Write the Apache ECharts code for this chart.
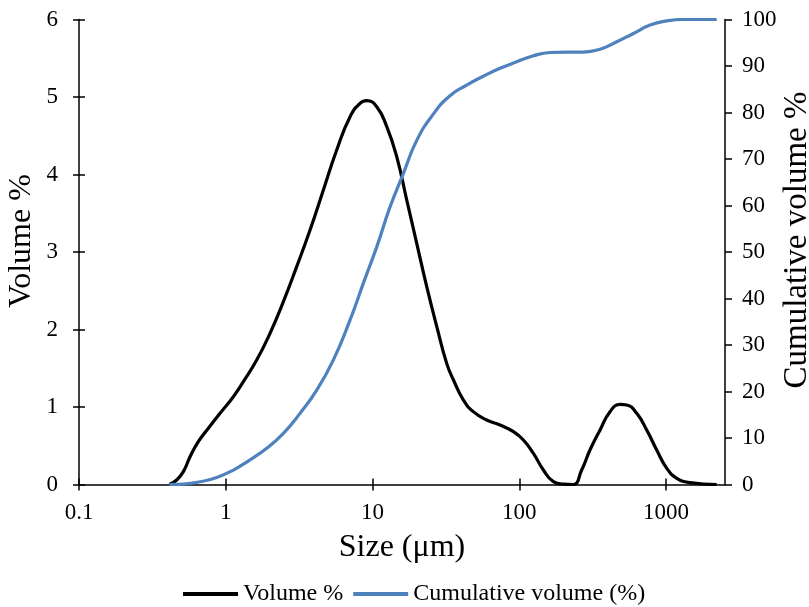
<!DOCTYPE html>
<html>
<head>
<meta charset="utf-8">
<script src="https://cdn.jsdelivr.net/npm/echarts@6/dist/echarts.min.js"></script>
<style>
html,body{margin:0;padding:0;background:#fff;}
#chart{width:809px;height:607px;}
</style>
</head>
<body>
<div id="chart"></div>
<script>
// Particle size (µm) and volume % readings
const volSizes  = [0.4125, 0.463, 0.514, 0.571, 0.650, 0.761, 0.914, 1.126, 1.318, 1.624, 2.002, 2.469, 3.042, 3.751, 4.624, 5.70, 7.03, 8.22, 9.13, 10.68, 12.50, 14.61, 17.10, 20.0, 23.4, 27.4, 32.0, 35.6, 41.6, 48.6, 59.9, 73.9, 91.2, 106.6, 124.7, 145.9, 170.7, 199.6, 233.6, 266, 303, 355, 415, 486, 539, 631, 738, 863, 1011, 1183, 1458, 2214];
const volValues = [0, 0.058, 0.166, 0.359, 0.553, 0.725, 0.918, 1.133, 1.327, 1.606, 1.951, 2.359, 2.811, 3.284, 3.800, 4.316, 4.746, 4.918, 4.953, 4.875, 4.617, 4.230, 3.671, 3.112, 2.553, 2.037, 1.563, 1.348, 1.090, 0.940, 0.832, 0.768, 0.682, 0.574, 0.402, 0.187, 0.037, 0.004, 0, 0.187, 0.445, 0.703, 0.940, 1.034, 1.026, 0.918, 0.703, 0.445, 0.209, 0.080, 0.024, 0];

// Cumulative volume (%) readings
const cumSizes  = [0.4125, 0.514, 0.668, 0.867, 1.126, 1.463, 1.90, 2.469, 3.206, 4.165, 5.41, 7.03, 8.66, 10.68, 13.16, 16.23, 20.0, 26.0, 33.7, 43.8, 56.9, 73.9, 96.0, 124.7, 162, 210, 273, 355, 461, 599, 778, 1011, 1312, 2214];
const cumValues = [0, 0.1, 0.6, 1.5, 3.1, 5.3, 7.8, 11.0, 15.3, 20.3, 26.8, 35.4, 43.3, 51.1, 59.7, 66.9, 74.0, 79.7, 83.6, 85.9, 87.8, 89.5, 90.9, 92.2, 92.9, 93.0, 93.0, 93.6, 95.2, 97.0, 98.8, 99.7, 100, 100];

const xTicks = [0.1, 1, 10, 100, 1000];
const xMin = 0.1, xMax = 2520;
const seriesNames = ['Volume %', 'Cumulative volume (%)'];

const FONT = 'Liberation Serif';
const pair = (xs, ys) => xs.map((x, i) => [x, ys[i]]);
const fmt = v => (v < 1 ? Number(v).toFixed(1) : String(Math.round(v)));

const chart = echarts.init(document.getElementById('chart'), null, {renderer: 'canvas'});
const gridBox = {left: 79, right: 84, top: 19.5, bottom: 122.5, containLabel: false, outerBoundsMode: 'none'};
const axisLine = {show: true, lineStyle: {color: '#000', width: 1.5}};

chart.setOption({
  animation: false,
  backgroundColor: '#fff',
  textStyle: {fontFamily: FONT, color: '#000'},
  grid: [Object.assign({}, gridBox), Object.assign({}, gridBox)],
  legend: {
    data: seriesNames,
    left: 183, top: 582, padding: 0,
    icon: 'rect', itemWidth: 55, itemHeight: 4, itemGap: 10,
    textStyle: {fontFamily: FONT, fontSize: 24, color: '#000'}
  },
  xAxis: [{
    type: 'log', logBase: 10, min: xMin, max: xMax, gridIndex: 0, position: 'bottom',
    axisLine: axisLine,
    axisTick: {show: true, inside: false, length: 6, lineStyle: {color: '#000', width: 1.5}, customValues: xTicks},
    axisLabel: {fontFamily: FONT, fontSize: 23, color: '#000', margin: 17, customValues: xTicks, formatter: fmt},
    splitLine: {show: false}, minorTick: {show: false},
    name: 'Size (μm)', nameLocation: 'middle', nameGap: 47, nameMoveOverlap: false,
    nameTextStyle: {fontFamily: FONT, fontSize: 32, color: '#000'}
  }, {
    type: 'log', logBase: 10, min: xMin, max: xMax, gridIndex: 1, position: 'bottom',
    axisLine: {show: false},
    axisTick: {show: true, inside: true, length: 6, lineStyle: {color: '#000', width: 1.5}, customValues: xTicks},
    axisLabel: {show: false}, splitLine: {show: false}
  }],
  yAxis: [{
    type: 'value', min: 0, max: 6, interval: 1, gridIndex: 0, position: 'left',
    axisLine: axisLine,
    axisTick: {show: true, inside: false, length: 6, lineStyle: {color: '#000', width: 1.5}},
    axisLabel: {fontFamily: FONT, fontSize: 23, color: '#000', margin: 21},
    splitLine: {show: false},
    name: 'Volume %', nameLocation: 'middle', nameGap: 41, nameMoveOverlap: false,
    nameTextStyle: {fontFamily: FONT, fontSize: 32, color: '#000', padding: [0, 0, 0, 22]}
  }, {
    type: 'value', min: 0, max: 100, interval: 10, gridIndex: 0, position: 'right',
    axisLine: axisLine,
    axisTick: {show: true, inside: false, length: 7, lineStyle: {color: '#000', width: 1.5}},
    axisLabel: {fontFamily: FONT, fontSize: 23, color: '#000', margin: 17},
    splitLine: {show: false},
    name: 'Cumulative volume %', nameLocation: 'middle', nameGap: 56, nameMoveOverlap: false,
    nameTextStyle: {fontFamily: FONT, fontSize: 33, color: '#000', padding: [0, 0, 0, 24]}
  }, {
    type: 'value', min: 0, max: 6, interval: 1, gridIndex: 1, position: 'left',
    axisLine: {show: false},
    axisTick: {show: true, inside: true, length: 6, lineStyle: {color: '#000', width: 1.5}},
    axisLabel: {show: false}, splitLine: {show: false}
  }],
  series: [{
    name: seriesNames[0], type: 'line', xAxisIndex: 0, yAxisIndex: 0,
    data: pair(volSizes, volValues),
    smooth: 0.5, showSymbol: false, symbol: 'none',
    lineStyle: {color: '#000', width: 3.2}, itemStyle: {color: '#000'}
  }, {
    name: seriesNames[1], type: 'line', xAxisIndex: 0, yAxisIndex: 1,
    data: pair(cumSizes, cumValues),
    smooth: 0.5, showSymbol: false, symbol: 'none',
    lineStyle: {color: '#4f81bd', width: 3.2}, itemStyle: {color: '#4f81bd'}
  }]
});
</script>
</body>
</html>
